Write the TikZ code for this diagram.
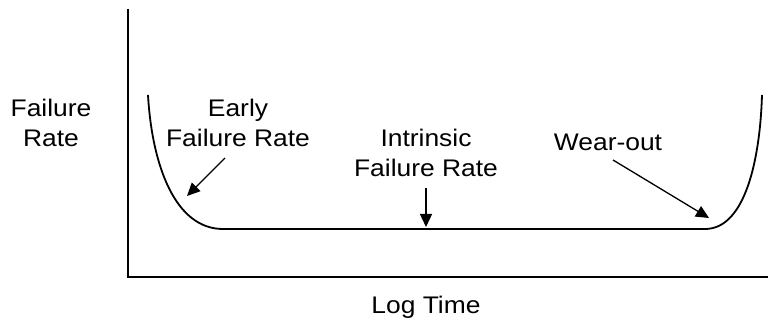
\documentclass[tikz,border=0pt]{standalone}
\usepackage{fontspec}
\setmainfont{Liberation Sans}[FakeStretch=1.1]
\usetikzlibrary{arrows.meta}
\tikzset{
  axis/.style={line width=1.6pt},
  bathtub/.style={line width=1.8pt},
  pointer/.style={line width=1.3pt, -{Triangle[length=13pt, width=12pt]}},
  lbl/.style={font=\fontsize{24}{30}\selectfont, align=center, inner sep=0pt, anchor=base}
}
\begin{document}
\begin{tikzpicture}[x=1pt, y=-1pt]
  \useasboundingbox (0,0) rectangle (768,320);
  % axes
  \coordinate (origin) at (128,277);
  \draw [axis] (128,9) -- (origin) -- (768,277);
  % bathtub curve
  \coordinate (ltop) at (148,95);
  \coordinate (lbot) at (223,229);
  \coordinate (rbot) at (705,229);
  \coordinate (rtop) at (762,95);
  \draw [bathtub] (ltop) .. controls (152,165) and (175,229) .. (lbot)
                  -- (rbot) .. controls (745,229) and (760,160) .. (rtop);
  % labels (base = baseline of the last line)
  \node (ylabel) [lbl] at (51,146.7) {Failure\\Rate};
  \node (early) [lbl] at (238,146.7) {Early\\Failure Rate};
  \node (intrinsic) [lbl] at (426,176.7) {Intrinsic\\Failure Rate};
  \node (wear) [lbl] at (608,151) {Wear-out};
  \node (xlabel) [lbl] at (426,313) {Log Time};
  % arrows to the curve
  \coordinate (earlyfrom) at (225,158);
  \coordinate (earlyto) at (187,196);
  \coordinate (intrfrom) at (426,188);
  \coordinate (intrto) at (426,227);
  \coordinate (wearfrom) at (613,160);
  \coordinate (wearto) at (709,218);
  \draw [pointer] (earlyfrom) -- (earlyto);
  \draw [pointer] (intrfrom) -- (intrto);
  \draw [pointer] (wearfrom) -- (wearto);
\end{tikzpicture}
\end{document}
